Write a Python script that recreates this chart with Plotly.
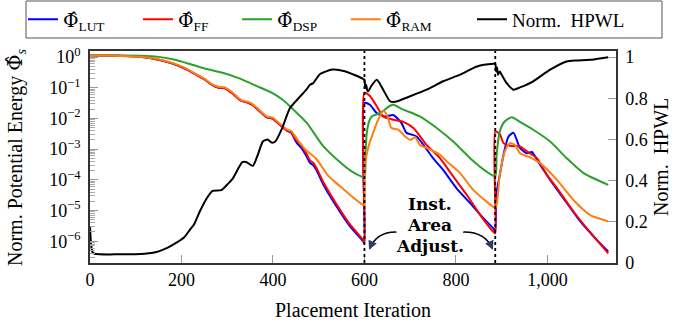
import plotly.graph_objects as go

# ---------------- data ----------------
ff_iter = [0, 60, 109, 145, 181, 211, 230, 250, 265, 280, 295, 312, 330, 345, 356, 370, 386, 400,
           415, 430, 440, 452, 462, 473, 481, 488, 495, 510, 539, 568, 597, 600,
           600, 612, 627, 641, 663, 685, 707, 736, 765, 794, 824, 853, 882, 886,
           886, 896, 904, 918, 940, 955, 977, 999, 1021, 1057, 1093, 1133]
ff_val = [1.15, 1.1, 1.02, 0.86, 0.62, 0.40, 0.28, 0.19, 0.13, 0.103, 0.097, 0.065, 0.038, 0.033,
          0.027, 0.018, 0.011, 0.0098, 0.0063, 0.0041, 0.0036, 0.0019, 0.00135, 7.2e-4, 4.3e-4,
          3.6e-4, 2.5e-4, 8.5e-5, 1.6e-5, 3.6e-6, 1.1e-6, 9e-7,
          0.068, 0.054, 0.025, 0.0117, 0.0091, 0.0078, 0.0049, 0.00138, 5.1e-4, 1.29e-4, 3.2e-5,
          7.2e-6, 2.0e-6, 1.8e-6,
          0.0038, 0.0031, 0.00158, 0.00129, 0.00123, 8.5e-4, 5.1e-4, 1.45e-4, 5.4e-5, 9.3e-6,
          2.0e-6, 4.0e-7]

lut_iter = [0, 60, 109, 145, 181, 211, 230, 250, 265, 280, 295, 312, 330, 345, 356, 370, 386, 400,
            415, 430, 440, 452, 462, 473, 481, 488, 495, 510, 539, 568, 597, 600,
            600, 612, 627, 645, 663, 681, 692, 703, 714, 729, 750, 772, 801, 831, 860, 882, 886,
            888, 896, 904, 915, 926, 940, 955, 966, 984, 1006, 1035, 1072, 1108, 1133]
lut_val = [1.15, 1.1, 1.02, 0.86, 0.62, 0.40, 0.28, 0.19, 0.13, 0.103, 0.097, 0.065, 0.038, 0.033,
           0.027, 0.018, 0.011, 0.0098, 0.0063, 0.0041, 0.0034, 0.0016, 0.0011, 6.0e-4, 3.6e-4,
           3.0e-4, 2.1e-4, 7.0e-5, 1.35e-5, 3.1e-6, 1.0e-6, 8.5e-7,
           0.032, 0.028, 0.015, 0.0117, 0.013, 0.0071, 0.0034, 0.003, 0.0026, 0.00138, 5.1e-4,
           2.1e-4, 5.4e-5, 1.74e-5, 5.6e-6, 2.6e-6, 2.0e-6,
           3.2e-5, 1.45e-4, 6.6e-4, 0.0026, 0.0034, 0.0011, 7.4e-4, 8.1e-4, 3.1e-4, 1.0e-4,
           2.5e-5, 4.4e-6, 1.1e-6, 4.6e-7]

dsp_iter = [0, 110, 150, 181, 218, 255, 290, 328, 364, 400, 422, 444, 474, 509, 543, 572, 600,
            602, 605, 610, 616, 634, 656, 663, 685, 721, 758, 794, 831, 867, 886,
            889, 896, 907, 922, 940, 969, 1006, 1042, 1079, 1133]
dsp_val = [1.15, 1.12, 1.02, 0.85, 0.6, 0.41, 0.31, 0.2, 0.115, 0.066, 0.04, 0.02, 0.0072,
           0.0013, 4.2e-4, 1.9e-4, 1.25e-4,
           6.3e-4, 0.0032, 0.0079, 0.0117, 0.015, 0.026, 0.028, 0.0195, 0.0117, 0.0049, 0.00178,
           5.1e-4, 1.86e-4, 1.29e-4,
           6.6e-4, 0.0038, 0.0081, 0.011, 0.0078, 0.0043, 0.00178, 5.1e-4, 1.66e-4, 6.9e-5]

ram_iter = [0, 60, 109, 145, 181, 211, 230, 250, 265, 280, 295, 312, 330, 345, 356, 370, 386, 400,
            415, 430, 440, 452, 470, 495, 520, 545, 570, 597, 600,
            601, 608, 619, 630, 641, 649, 659, 674, 689, 700, 711, 721, 736, 765, 780, 809, 838,
            867, 886,
            889, 896, 907, 918, 929, 940, 962, 984, 1021, 1057, 1093, 1133]
ram_val = [1.15, 1.1, 1.03, 0.88, 0.64, 0.42, 0.29, 0.2, 0.135, 0.108, 0.102, 0.069, 0.04, 0.035,
           0.029, 0.019, 0.0118, 0.0105, 0.0068, 0.0044, 0.0039, 0.0022, 0.001, 4.8e-4, 1.4e-4,
           6.5e-5, 3.1e-5, 1.5e-5, 1.4e-5,
           2.75e-4, 1.1e-3, 3.4e-3, 9.1e-3, 0.0174, 0.0132, 0.0049, 0.0043, 0.0026, 0.002, 0.00245,
           0.00138, 0.0011, 6.6e-4, 4.0e-4, 1.66e-4, 4.7e-5, 1.95e-5, 1.2e-5,
           1.5e-5, 1.45e-4, 8.5e-4, 1.58e-3, 1.38e-3, 7.4e-4, 5.4e-4, 3.5e-4, 1.0e-4, 2.2e-5,
           7.2e-6, 4.4e-6]

hpwl_iter = [0, 2, 5, 10, 60, 120, 145, 170, 190, 206, 218, 228, 240, 254, 268, 287, 301, 312,
             333, 342, 356, 366, 378, 388, 397, 405, 419, 437, 459, 473, 481, 488, 503, 530, 557,
             597, 600, 602, 604, 606, 608, 615, 627, 641, 656, 667, 700, 736, 772, 809, 846, 882,
             886, 888, 890, 892, 896, 900, 911, 926, 940, 969, 1006, 1042, 1064, 1093, 1133]
hpwl_val = [0.18, 0.10, 0.055, 0.045, 0.042, 0.045, 0.053, 0.075, 0.1, 0.125, 0.16, 0.19, 0.25,
            0.31, 0.35, 0.354, 0.383, 0.41, 0.49, 0.49, 0.472, 0.52, 0.59, 0.6, 0.585, 0.59,
            0.649, 0.752, 0.808, 0.842, 0.866, 0.874, 0.918, 0.94, 0.932,
            0.895, 0.89, 0.85, 0.865, 0.84, 0.834, 0.86, 0.89, 0.842, 0.786, 0.783, 0.81, 0.842,
            0.883, 0.915, 0.955, 0.968, 0.968, 0.93, 0.95, 0.915, 0.93, 0.915, 0.874, 0.842,
            0.853, 0.883, 0.939, 0.979, 0.984, 0.987, 1.0]

adjust_iters = [600, 886]

energy_tickvals = [1, 1e-1, 1e-2, 1e-3, 1e-4, 1e-5, 1e-6]
energy_ticktext = ["10<sup>0</sup>", "10<sup>\u22121</sup>", "10<sup>\u22122</sup>",
                   "10<sup>\u22123</sup>", "10<sup>\u22124</sup>", "10<sup>\u22125</sup>",
                   "10<sup>\u22126</sup>"]
x_tickvals = [0, 200, 400, 600, 800, 1000]
x_ticktext = ["0", "200", "400", "600", "800", "1,000"]
hpwl_tickvals = [0, 0.2, 0.4, 0.6, 0.8, 1]
hpwl_ticktext = ["0", "0.2", "0.4", "0.6", "0.8", "1"]

# ---------------- figure ----------------
FONT = "Liberation Serif"
HAT = "<span style=\"font-family:'DejaVu Serif'\">\u03a6\u0302</span>"
NB = "\u00a0"

# pixel -> paper helpers (plot area: x 90..616, y 51..263)
def px_x(p):
    return (p - 90) / 526.0

def px_y(p):
    return (263 - p) / 212.0

fig = go.Figure()
series = [
    (lut_iter, lut_val, HAT + "<sub>LUT</sub>" + NB * 6, "#0000ff", "y", "legend"),
    (ff_iter, ff_val, HAT + "<sub>FF</sub>" + NB * 5, "#ff0000", "y", "legend"),
    (dsp_iter, dsp_val, HAT + "<sub>DSP</sub>" + NB * 5, "#2ca02c", "y", "legend"),
    (ram_iter, ram_val, HAT + "<sub>RAM</sub>", "#ff7f0e", "y", "legend"),
    (hpwl_iter, hpwl_val, "Norm." + NB + " HPWL", "#000000", "y2", "legend2"),
]
for xs, ys, name, col, ax, lg in series:
    fig.add_trace(go.Scatter(x=xs, y=ys, name=name, mode="lines", yaxis=ax, legend=lg,
                             line=dict(color=col, width=2, shape="spline", smoothing=0.6)))

minor_vals = [m * 10.0 ** k for k in range(-7, 1) for m in range(2, 10)]

legend_common = dict(orientation="h", yanchor="middle", y=px_y(19.5), xanchor="left",
                     borderwidth=0, bgcolor="rgba(0,0,0,0)",
                     font=dict(size=19, family=FONT), tracegroupgap=0)

fig.update_layout(
    width=675, height=324,
    margin=dict(l=90, r=59, t=51, b=61, autoexpand=False),
    paper_bgcolor="white", plot_bgcolor="white",
    font=dict(family=FONT, size=18, color="black"),
    showlegend=True,
    legend=dict(x=px_x(23), **legend_common),
    legend2=dict(x=px_x(472), **legend_common),
    xaxis=dict(range=[0, 1150], tickvals=x_tickvals, ticktext=x_ticktext,
               ticks="inside", ticklen=8, tickcolor="#999999", tickwidth=1,
               showline=True, linecolor="#333333", linewidth=1.5, mirror=True,
               showgrid=False, zeroline=False, tickfont=dict(size=18)),
    yaxis=dict(type="log", range=[-6.71, 0.2], tickvals=energy_tickvals,
               ticktext=energy_ticktext, ticks="inside", ticklen=8, tickcolor="#999999",
               tickwidth=1, showline=True, linecolor="#333333", linewidth=1.5, mirror=True,
               showgrid=False, zeroline=False, tickfont=dict(size=18), ticklabelstandoff=4,
               minor=dict(tickmode="array", tickvals=minor_vals, ticks="inside", ticklen=5,
                          tickcolor="#aaaaaa", tickwidth=1, showgrid=False)),
    yaxis2=dict(overlaying="y", side="right", range=[0, 1.03], tickvals=hpwl_tickvals,
                ticktext=hpwl_ticktext, ticks="inside", ticklen=8, tickcolor="#999999",
                tickwidth=1, showline=True, linecolor="#333333", linewidth=1.5,
                showgrid=False, zeroline=False, tickfont=dict(size=18), ticklabelstandoff=4),
)

# legend frame
fig.add_shape(type="rect", xref="paper", yref="paper",
              x0=px_x(26), x1=px_x(662), y0=px_y(38), y1=px_y(1),
              line=dict(color="#555555", width=1), fillcolor="rgba(0,0,0,0)")

# vertical dotted lines at instance-area adjustment
for it in adjust_iters:
    fig.add_shape(type="line", xref="x", yref="paper", x0=it, x1=it, y0=0, y1=1,
                  line=dict(color="black", width=1.8, dash="dot"), layer="above")

# curved arrows
fig.add_shape(type="path", xref="x", yref="y2",
              path="M 670,0.150 Q 627,0.152 612,0.070",
              line=dict(color="black", width=1.5))
fig.add_shape(type="path", xref="x", yref="y2",
              path="M 816,0.150 Q 864,0.152 879,0.070",
              line=dict(color="black", width=1.5))
fig.add_annotation(x=610, y=0.064, xref="x", yref="y2", text="", showarrow=True,
                   arrowhead=2, arrowsize=1.2, arrowwidth=1.5, ax=4, ay=-9, standoff=0)
fig.add_annotation(x=881, y=0.064, xref="x", yref="y2", text="", showarrow=True,
                   arrowhead=2, arrowsize=1.2, arrowwidth=1.5, ax=-4, ay=-9, standoff=0)

for txt, yv in [("Inst.", 0.287), ("Area", 0.186), ("Adjust.", 0.084)]:
    fig.add_annotation(x=743, y=yv, xref="x", yref="y2", text="<b>%s</b>" % txt,
                       showarrow=False, font=dict(size=17, family="DejaVu Serif"))

# axis titles
fig.add_annotation(x=0.5, y=px_y(323), xref="paper", yref="paper", text="Placement Iteration",
                   showarrow=False, font=dict(size=20, family=FONT),
                   xanchor="center", yanchor="bottom")
fig.add_annotation(x=px_x(16), y=0.5, xref="paper", yref="paper",
                   text="Norm. Potential Energy " + HAT + "<sub><i>s</i></sub>",
                   textangle=-90, showarrow=False, font=dict(size=20, family=FONT),
                   xanchor="center", yanchor="middle")
fig.add_annotation(x=px_x(661), y=0.5, xref="paper", yref="paper", text="Norm." + NB + " HPWL",
                   textangle=-90, showarrow=False, font=dict(size=20, family=FONT),
                   xanchor="center", yanchor="middle")

fig.write_html("out.html", post_script="document.body.style.margin='0';",
               config={"displayModeBar": False})
